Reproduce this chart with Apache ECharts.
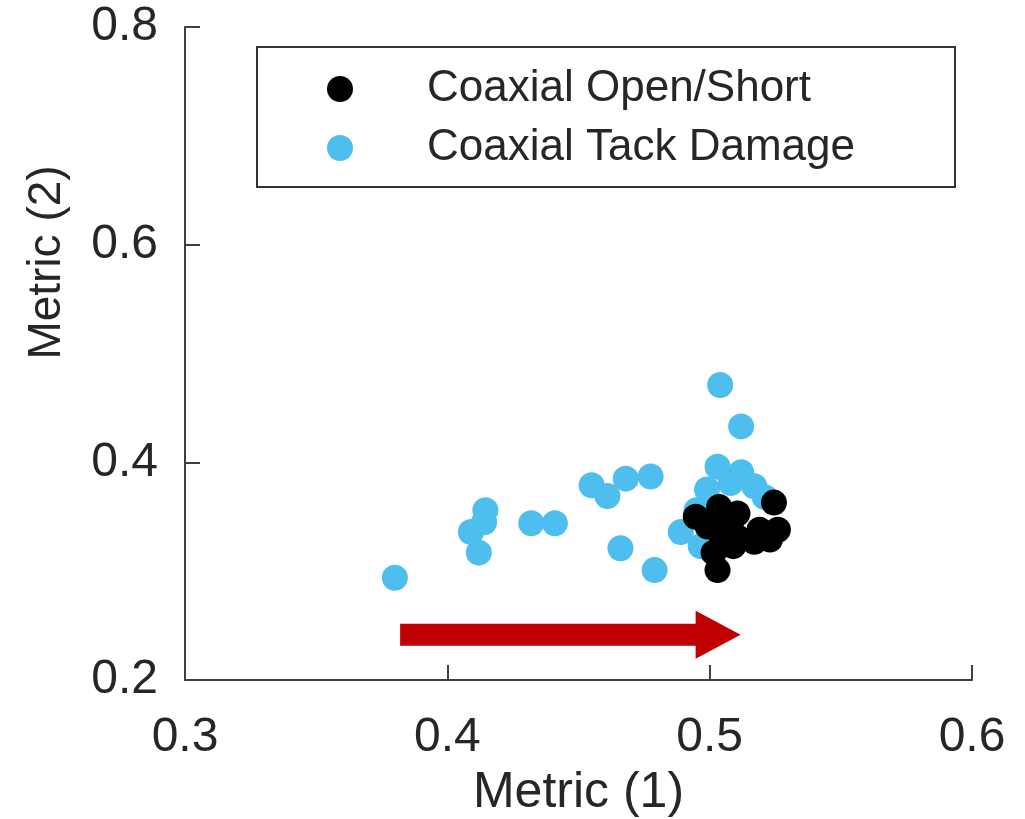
<!DOCTYPE html>
<html>
<head>
<meta charset="utf-8">
<script src="https://cdn.jsdelivr.net/npm/echarts@6/dist/echarts.min.js"></script>
<style>html,body{margin:0;padding:0;background:#fff}#c{width:1025px;height:819px}</style>
</head>
<body>
<div id="c"></div>
<script>
const seriesNames = ['Coaxial Open/Short', 'Coaxial Tack Damage'];
const xTicks = [0.3, 0.4, 0.5, 0.6];
const yTicks = [0.2, 0.4, 0.6, 0.8];
const openShort = [
  [0.503,0.301],[0.5245,0.363],[0.4947,0.350],[0.5036,0.359],[0.5106,0.353],
  [0.526,0.338],[0.523,0.329],[0.517,0.327],[0.509,0.323],[0.504,0.335],
  [0.4992,0.341],[0.508,0.341],[0.5107,0.331],[0.519,0.338],[0.5015,0.317]
];
const tackDamage = [
  [0.380,0.294],[0.412,0.317],[0.409,0.336],[0.4145,0.356],[0.414,0.345],
  [0.432,0.344],[0.441,0.344],[0.455,0.379],[0.461,0.369],[0.468,0.385],
  [0.4775,0.387],[0.466,0.321],[0.479,0.301],[0.489,0.336],[0.504,0.471],
  [0.512,0.433],[0.503,0.396],[0.512,0.391],[0.499,0.375],[0.508,0.381],
  [0.517,0.378],[0.521,0.368],[0.4966,0.323],[0.495,0.356]
];
// arrow annotation: [xStart, xEnd, y]
const arrowData = [[0.382, 0.5118, 0.2415]];

const font = 'Liberation Sans, Arial, sans-serif';
const axisCol = '#404040';
const chart = echarts.init(document.getElementById('c'));
chart.setOption({
  animation: false,
  backgroundColor: '#fff',
  grid: {left: 185, right: 53, top: 27, bottom: 139, containLabel: false, outerBoundsMode: 'none'},
  legend: {
    data: seriesNames,
    orient: 'vertical',
    left: 257, top: 47,
    padding: [19, 100, 16, 70],
    itemGap: 13,
    itemWidth: 26, itemHeight: 26,
    icon: 'circle',
    borderColor: '#333', borderWidth: 2,
    backgroundColor: '#fff',
    textStyle: {fontFamily: font, fontSize: 44, color: '#262626', padding: [0,0,0,69], lineHeight: 46}
  },
  xAxis: {
    type: 'value', min: xTicks[0], max: xTicks[xTicks.length-1], interval: 0.1,
    name: 'Metric (1)', nameLocation: 'middle', nameGap: 88,
    nameTextStyle: {fontFamily: font, fontSize: 50, color: '#262626'},
    axisLine: {show: true, lineStyle: {color: axisCol, width: 2}},
    axisTick: {show: true, inside: true, length: 15, lineStyle: {color: axisCol, width: 2}},
    axisLabel: {fontFamily: font, fontSize: 48, color: '#262626', margin: 34,
      formatter: v => v.toFixed(1)},
    splitLine: {show: false}
  },
  yAxis: {
    type: 'value', min: yTicks[0], max: yTicks[yTicks.length-1], interval: 0.2,
    name: 'Metric (2)', nameLocation: 'middle', nameGap: 115, nameRotate: 90,
    nameTextStyle: {fontFamily: font, fontSize: 46, color: '#262626', padding: [0, 0, 0, 182]},
    axisLine: {show: true, lineStyle: {color: axisCol, width: 2}},
    axisTick: {show: true, inside: true, length: 15, lineStyle: {color: axisCol, width: 2}},
    axisLabel: {fontFamily: font, fontSize: 48, color: '#262626', margin: 27,
      formatter: v => v.toFixed(1)},
    splitLine: {show: false}
  },
  series: [
    {
      name: seriesNames[1], type: 'scatter', data: tackDamage, symbolSize: 26,
      itemStyle: {color: '#4DBEEE', opacity: 1}, z: 2
    },
    {
      name: seriesNames[0], type: 'scatter', data: openShort, symbolSize: 26,
      itemStyle: {color: '#000000', opacity: 1}, z: 3
    },
    {
      type: 'custom', data: arrowData, z: 4, silent: true,
      renderItem: function (params, api) {
        const a = api.coord([api.value(0), api.value(2)]);
        const b = api.coord([api.value(1), api.value(2)]);
        const hs = 11, hh = 24, hl = 45;
        const bx = b[0] - hl;
        return {
          type: 'polygon',
          shape: {points: [
            [a[0], a[1]-hs], [bx, a[1]-hs], [bx, a[1]-hh], [b[0], b[1]],
            [bx, a[1]+hh], [bx, a[1]+hs], [a[0], a[1]+hs]
          ]},
          style: {fill: '#C00000'}
        };
      }
    }
  ]
});
</script>
</body>
</html>
